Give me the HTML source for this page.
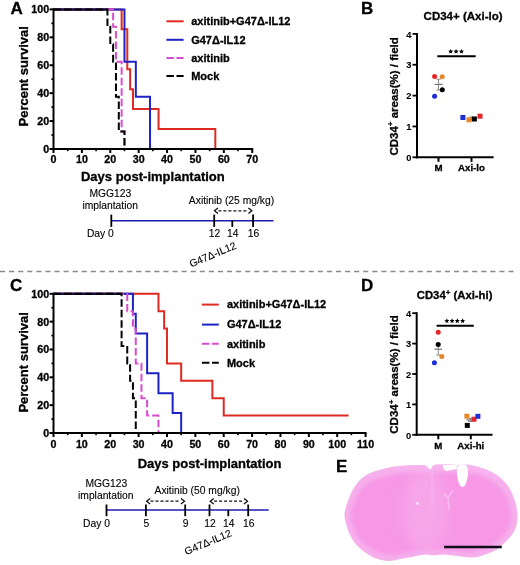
<!DOCTYPE html>
<html><head><meta charset="utf-8"><style>
html,body{margin:0;padding:0;background:#fff;}
svg{display:block;will-change:transform;}
text{font-family:"Liberation Sans", sans-serif;} text[font-weight="700"]{stroke:#000;stroke-width:0.3px;} text[font-weight="400"]{stroke:#000;stroke-width:0.12px;}
</style></head><body>
<svg width="520" height="565" viewBox="0 0 520 565" font-family='"Liberation Sans", sans-serif'>
<rect width="520" height="565" fill="#fff"/>
<defs><filter id="soft" x="0" y="0" width="100%" height="100%" filterUnits="userSpaceOnUse"><feGaussianBlur stdDeviation="0.35"/></filter></defs>
<g filter="url(#soft)">
<text x="10.5" y="13.9" font-size="17" font-weight="700" text-anchor="start" fill="#000" >A</text>
<text x="361.0" y="13.9" font-size="17" font-weight="700" text-anchor="start" fill="#000" >B</text>
<text x="10.0" y="290.6" font-size="17" font-weight="700" text-anchor="start" fill="#000" >C</text>
<text x="361.0" y="290.7" font-size="17" font-weight="700" text-anchor="start" fill="#000" >D</text>
<text x="335.9" y="471.6" font-size="17" font-weight="700" text-anchor="start" fill="#000" >E</text>
<path d="M53.50,9.40 H121.64 V29.34 H127.31 V69.23 H130.15 V89.17 H132.99 V109.11 H158.54 V129.06 H215.32 V149.00" fill="none" stroke="#de2a22" stroke-width="2" stroke-linejoin="miter" stroke-linecap="butt" />
<path d="M53.50,9.40 H124.47 V61.75 H135.83 V96.65 H150.03 V149.00" fill="none" stroke="#1e24c4" stroke-width="2" stroke-linejoin="miter" stroke-linecap="butt" />
<path d="M53.50,9.40 H113.12 V26.85 H115.96 V61.75 H121.64 V131.55 H124.47 V149.00" fill="none" stroke="#d94cd0" stroke-width="2" stroke-linejoin="miter" stroke-linecap="butt" stroke-dasharray="7.5 3"/>
<line x1="53.5" y1="9.4" x2="107.441" y2="9.4" stroke="#0c0c30" stroke-width="2" />
<path d="M53.50,9.40 H107.44 V26.85 H110.28 V44.30 H113.12 V61.75 H115.96 V96.65 H118.80 V131.55 H124.47 V149.00" fill="none" stroke="#000000" stroke-width="2" stroke-linejoin="miter" stroke-linecap="butt" stroke-dasharray="7.5 3"/>
<line x1="53.5" y1="8.4" x2="53.5" y2="150.0" stroke="#000" stroke-width="2" />
<line x1="52.5" y1="149.0" x2="253.23" y2="149.0" stroke="#000" stroke-width="2" />
<line x1="49.5" y1="149.0" x2="53.5" y2="149.0" stroke="#000" stroke-width="2" />
<text x="49.1" y="152.9" font-size="10.7" font-weight="700" text-anchor="end" fill="#000" >0</text>
<line x1="51.3" y1="135.04" x2="53.5" y2="135.04" stroke="#000" stroke-width="1.6" />
<line x1="49.5" y1="121.08" x2="53.5" y2="121.08" stroke="#000" stroke-width="2" />
<text x="49.1" y="124.98" font-size="10.7" font-weight="700" text-anchor="end" fill="#000" >20</text>
<line x1="51.3" y1="107.12" x2="53.5" y2="107.12" stroke="#000" stroke-width="1.6" />
<line x1="49.5" y1="93.16" x2="53.5" y2="93.16" stroke="#000" stroke-width="2" />
<text x="49.1" y="97.06" font-size="10.7" font-weight="700" text-anchor="end" fill="#000" >40</text>
<line x1="51.3" y1="79.2" x2="53.5" y2="79.2" stroke="#000" stroke-width="1.6" />
<line x1="49.5" y1="65.24" x2="53.5" y2="65.24" stroke="#000" stroke-width="2" />
<text x="49.1" y="69.14" font-size="10.7" font-weight="700" text-anchor="end" fill="#000" >60</text>
<line x1="51.3" y1="51.279999999999994" x2="53.5" y2="51.279999999999994" stroke="#000" stroke-width="1.6" />
<line x1="49.5" y1="37.32" x2="53.5" y2="37.32" stroke="#000" stroke-width="2" />
<text x="49.1" y="41.22" font-size="10.7" font-weight="700" text-anchor="end" fill="#000" >80</text>
<line x1="51.3" y1="23.36" x2="53.5" y2="23.36" stroke="#000" stroke-width="1.6" />
<line x1="49.5" y1="9.4" x2="53.5" y2="9.4" stroke="#000" stroke-width="2" />
<text x="49.1" y="13.3" font-size="10.7" font-weight="700" text-anchor="end" fill="#000" >100</text>
<line x1="53.5" y1="149.0" x2="53.5" y2="153.0" stroke="#000" stroke-width="2" />
<text x="53.5" y="163.3" font-size="10.7" font-weight="700" text-anchor="middle" fill="#000" >0</text>
<line x1="67.695" y1="149.0" x2="67.695" y2="151.2" stroke="#000" stroke-width="1.6" />
<line x1="81.89" y1="149.0" x2="81.89" y2="153.0" stroke="#000" stroke-width="2" />
<text x="81.89" y="163.3" font-size="10.7" font-weight="700" text-anchor="middle" fill="#000" >10</text>
<line x1="96.08500000000001" y1="149.0" x2="96.08500000000001" y2="151.2" stroke="#000" stroke-width="1.6" />
<line x1="110.28" y1="149.0" x2="110.28" y2="153.0" stroke="#000" stroke-width="2" />
<text x="110.28" y="163.3" font-size="10.7" font-weight="700" text-anchor="middle" fill="#000" >20</text>
<line x1="124.475" y1="149.0" x2="124.475" y2="151.2" stroke="#000" stroke-width="1.6" />
<line x1="138.67000000000002" y1="149.0" x2="138.67000000000002" y2="153.0" stroke="#000" stroke-width="2" />
<text x="138.67000000000002" y="163.3" font-size="10.7" font-weight="700" text-anchor="middle" fill="#000" >30</text>
<line x1="152.865" y1="149.0" x2="152.865" y2="151.2" stroke="#000" stroke-width="1.6" />
<line x1="167.06" y1="149.0" x2="167.06" y2="153.0" stroke="#000" stroke-width="2" />
<text x="167.06" y="163.3" font-size="10.7" font-weight="700" text-anchor="middle" fill="#000" >40</text>
<line x1="181.255" y1="149.0" x2="181.255" y2="151.2" stroke="#000" stroke-width="1.6" />
<line x1="195.45" y1="149.0" x2="195.45" y2="153.0" stroke="#000" stroke-width="2" />
<text x="195.45" y="163.3" font-size="10.7" font-weight="700" text-anchor="middle" fill="#000" >50</text>
<line x1="209.645" y1="149.0" x2="209.645" y2="151.2" stroke="#000" stroke-width="1.6" />
<line x1="223.84" y1="149.0" x2="223.84" y2="153.0" stroke="#000" stroke-width="2" />
<text x="223.84" y="163.3" font-size="10.7" font-weight="700" text-anchor="middle" fill="#000" >60</text>
<line x1="238.035" y1="149.0" x2="238.035" y2="151.2" stroke="#000" stroke-width="1.6" />
<line x1="252.23" y1="149.0" x2="252.23" y2="153.0" stroke="#000" stroke-width="2" />
<text x="252.23" y="163.3" font-size="10.7" font-weight="700" text-anchor="middle" fill="#000" >70</text>
<text x="152.865" y="180.5" font-size="13" font-weight="700" text-anchor="middle" fill="#000" >Days post-implantation</text>
<text transform="translate(27.7,76.3) rotate(-90)" font-size="13" font-weight="700" text-anchor="middle">Percent survival</text>
<line x1="166.4" y1="21.3" x2="183.6" y2="21.3" stroke="#de2a22" stroke-width="2" />
<text x="191.2" y="25.1" font-size="11" font-weight="700" text-anchor="start" fill="#000" >axitinib+G47&#916;-IL12</text>
<line x1="166.4" y1="39.8" x2="183.6" y2="39.8" stroke="#1e24c4" stroke-width="2" />
<text x="191.2" y="43.599999999999994" font-size="11" font-weight="700" text-anchor="start" fill="#000" >G47&#916;-IL12</text>
<line x1="166.4" y1="58.1" x2="183.6" y2="58.1" stroke="#d94cd0" stroke-width="2" stroke-dasharray="7.5 2.6"/>
<text x="191.2" y="61.9" font-size="11" font-weight="700" text-anchor="start" fill="#000" >axitinib</text>
<line x1="166.4" y1="76.0" x2="183.6" y2="76.0" stroke="#000000" stroke-width="2" stroke-dasharray="7.5 2.6"/>
<text x="191.2" y="79.8" font-size="11" font-weight="700" text-anchor="start" fill="#000" >Mock</text>
<path d="M53.50,293.80 H158.47 V311.20 H164.14 V328.60 H166.98 V363.40 H181.17 V380.80 H212.37 V398.20 H223.72 V415.60 H348.55" fill="none" stroke="#de2a22" stroke-width="2" stroke-linejoin="miter" stroke-linecap="butt" />
<path d="M53.50,293.80 H132.94 V313.69 H135.77 V333.57 H147.12 V373.34 H158.47 V393.23 H172.65 V413.11 H181.17 V433.00" fill="none" stroke="#1e24c4" stroke-width="2" stroke-linejoin="miter" stroke-linecap="butt" />
<path d="M53.50,293.80 H127.26 V311.20 H132.94 V328.60 H135.77 V363.40 H141.45 V398.20 H147.12 V415.60 H158.47 V433.00" fill="none" stroke="#d94cd0" stroke-width="2" stroke-linejoin="miter" stroke-linecap="butt" stroke-dasharray="7.5 3"/>
<line x1="53.5" y1="293.8" x2="121.58800000000001" y2="293.8" stroke="#0c0c30" stroke-width="2" />
<path d="M53.50,293.80 H121.59 V346.00 H127.26 V363.40 H130.10 V380.80 H132.94 V398.20 H135.77 V433.00" fill="none" stroke="#000000" stroke-width="2" stroke-linejoin="miter" stroke-linecap="butt" stroke-dasharray="7.5 3"/>
<line x1="53.5" y1="292.8" x2="53.5" y2="434.0" stroke="#000" stroke-width="2" />
<line x1="52.5" y1="433.0" x2="366.57" y2="433.0" stroke="#000" stroke-width="2" />
<line x1="49.5" y1="433.0" x2="53.5" y2="433.0" stroke="#000" stroke-width="2" />
<text x="49.1" y="436.9" font-size="10.7" font-weight="700" text-anchor="end" fill="#000" >0</text>
<line x1="51.3" y1="419.08" x2="53.5" y2="419.08" stroke="#000" stroke-width="1.6" />
<line x1="49.5" y1="405.15999999999997" x2="53.5" y2="405.15999999999997" stroke="#000" stroke-width="2" />
<text x="49.1" y="409.05999999999995" font-size="10.7" font-weight="700" text-anchor="end" fill="#000" >20</text>
<line x1="51.3" y1="391.24" x2="53.5" y2="391.24" stroke="#000" stroke-width="1.6" />
<line x1="49.5" y1="377.32" x2="53.5" y2="377.32" stroke="#000" stroke-width="2" />
<text x="49.1" y="381.21999999999997" font-size="10.7" font-weight="700" text-anchor="end" fill="#000" >40</text>
<line x1="51.3" y1="363.4" x2="53.5" y2="363.4" stroke="#000" stroke-width="1.6" />
<line x1="49.5" y1="349.48" x2="53.5" y2="349.48" stroke="#000" stroke-width="2" />
<text x="49.1" y="353.38" font-size="10.7" font-weight="700" text-anchor="end" fill="#000" >60</text>
<line x1="51.3" y1="335.56" x2="53.5" y2="335.56" stroke="#000" stroke-width="1.6" />
<line x1="49.5" y1="321.64" x2="53.5" y2="321.64" stroke="#000" stroke-width="2" />
<text x="49.1" y="325.53999999999996" font-size="10.7" font-weight="700" text-anchor="end" fill="#000" >80</text>
<line x1="51.3" y1="307.72" x2="53.5" y2="307.72" stroke="#000" stroke-width="1.6" />
<line x1="49.5" y1="293.8" x2="53.5" y2="293.8" stroke="#000" stroke-width="2" />
<text x="49.1" y="297.7" font-size="10.7" font-weight="700" text-anchor="end" fill="#000" >100</text>
<line x1="53.5" y1="433.0" x2="53.5" y2="437.0" stroke="#000" stroke-width="2" />
<text x="53.5" y="448.3" font-size="10.7" font-weight="700" text-anchor="middle" fill="#000" >0</text>
<line x1="67.685" y1="433.0" x2="67.685" y2="435.2" stroke="#000" stroke-width="1.6" />
<line x1="81.87" y1="433.0" x2="81.87" y2="437.0" stroke="#000" stroke-width="2" />
<text x="81.87" y="448.3" font-size="10.7" font-weight="700" text-anchor="middle" fill="#000" >10</text>
<line x1="96.055" y1="433.0" x2="96.055" y2="435.2" stroke="#000" stroke-width="1.6" />
<line x1="110.24000000000001" y1="433.0" x2="110.24000000000001" y2="437.0" stroke="#000" stroke-width="2" />
<text x="110.24000000000001" y="448.3" font-size="10.7" font-weight="700" text-anchor="middle" fill="#000" >20</text>
<line x1="124.42500000000001" y1="433.0" x2="124.42500000000001" y2="435.2" stroke="#000" stroke-width="1.6" />
<line x1="138.61" y1="433.0" x2="138.61" y2="437.0" stroke="#000" stroke-width="2" />
<text x="138.61" y="448.3" font-size="10.7" font-weight="700" text-anchor="middle" fill="#000" >30</text>
<line x1="152.79500000000002" y1="433.0" x2="152.79500000000002" y2="435.2" stroke="#000" stroke-width="1.6" />
<line x1="166.98000000000002" y1="433.0" x2="166.98000000000002" y2="437.0" stroke="#000" stroke-width="2" />
<text x="166.98000000000002" y="448.3" font-size="10.7" font-weight="700" text-anchor="middle" fill="#000" >40</text>
<line x1="181.16500000000002" y1="433.0" x2="181.16500000000002" y2="435.2" stroke="#000" stroke-width="1.6" />
<line x1="195.35000000000002" y1="433.0" x2="195.35000000000002" y2="437.0" stroke="#000" stroke-width="2" />
<text x="195.35000000000002" y="448.3" font-size="10.7" font-weight="700" text-anchor="middle" fill="#000" >50</text>
<line x1="209.535" y1="433.0" x2="209.535" y2="435.2" stroke="#000" stroke-width="1.6" />
<line x1="223.72" y1="433.0" x2="223.72" y2="437.0" stroke="#000" stroke-width="2" />
<text x="223.72" y="448.3" font-size="10.7" font-weight="700" text-anchor="middle" fill="#000" >60</text>
<line x1="237.905" y1="433.0" x2="237.905" y2="435.2" stroke="#000" stroke-width="1.6" />
<line x1="252.09" y1="433.0" x2="252.09" y2="437.0" stroke="#000" stroke-width="2" />
<text x="252.09" y="448.3" font-size="10.7" font-weight="700" text-anchor="middle" fill="#000" >70</text>
<line x1="266.275" y1="433.0" x2="266.275" y2="435.2" stroke="#000" stroke-width="1.6" />
<line x1="280.46000000000004" y1="433.0" x2="280.46000000000004" y2="437.0" stroke="#000" stroke-width="2" />
<text x="280.46000000000004" y="448.3" font-size="10.7" font-weight="700" text-anchor="middle" fill="#000" >80</text>
<line x1="294.645" y1="433.0" x2="294.645" y2="435.2" stroke="#000" stroke-width="1.6" />
<line x1="308.83000000000004" y1="433.0" x2="308.83000000000004" y2="437.0" stroke="#000" stroke-width="2" />
<text x="308.83000000000004" y="448.3" font-size="10.7" font-weight="700" text-anchor="middle" fill="#000" >90</text>
<line x1="323.01500000000004" y1="433.0" x2="323.01500000000004" y2="435.2" stroke="#000" stroke-width="1.6" />
<line x1="337.20000000000005" y1="433.0" x2="337.20000000000005" y2="437.0" stroke="#000" stroke-width="2" />
<text x="337.20000000000005" y="448.3" font-size="10.7" font-weight="700" text-anchor="middle" fill="#000" >100</text>
<line x1="351.38500000000005" y1="433.0" x2="351.38500000000005" y2="435.2" stroke="#000" stroke-width="1.6" />
<line x1="365.57" y1="433.0" x2="365.57" y2="437.0" stroke="#000" stroke-width="2" />
<text x="365.57" y="448.3" font-size="10.7" font-weight="700" text-anchor="middle" fill="#000" >110</text>
<text x="209.535" y="468.1" font-size="13" font-weight="700" text-anchor="middle" fill="#000" >Days post-implantation</text>
<text transform="translate(27.7,362.4) rotate(-90)" font-size="13" font-weight="700" text-anchor="middle">Percent survival</text>
<line x1="201.9" y1="304.6" x2="218.8" y2="304.6" stroke="#de2a22" stroke-width="2" />
<text x="226.9" y="308.40000000000003" font-size="11" font-weight="700" text-anchor="start" fill="#000" >axitinib+G47&#916;-IL12</text>
<line x1="201.9" y1="324.6" x2="218.8" y2="324.6" stroke="#1e24c4" stroke-width="2" />
<text x="226.9" y="328.40000000000003" font-size="11" font-weight="700" text-anchor="start" fill="#000" >G47&#916;-IL12</text>
<line x1="201.9" y1="343.7" x2="218.8" y2="343.7" stroke="#d94cd0" stroke-width="2" stroke-dasharray="7.5 2.6"/>
<text x="226.9" y="347.5" font-size="11" font-weight="700" text-anchor="start" fill="#000" >axitinib</text>
<line x1="201.9" y1="362.7" x2="218.8" y2="362.7" stroke="#000000" stroke-width="2" stroke-dasharray="7.5 2.6"/>
<text x="226.9" y="366.5" font-size="11" font-weight="700" text-anchor="start" fill="#000" >Mock</text>
<text x="110.4" y="197.3" font-size="10.3" font-weight="400" text-anchor="middle" fill="#000" >MGG123</text>
<text x="110.2" y="208.5" font-size="10.3" font-weight="400" text-anchor="middle" fill="#000" >implantation</text>
<line x1="111.3" y1="220.7" x2="273.5" y2="220.7" stroke="#1c1cb0" stroke-width="1.6" />
<line x1="111.3" y1="214.6" x2="111.3" y2="226.9" stroke="#000" stroke-width="1.8" />
<line x1="214.2" y1="214.6" x2="214.2" y2="226.9" stroke="#000" stroke-width="1.8" />
<line x1="232.3" y1="220.4" x2="232.3" y2="226.9" stroke="#000" stroke-width="1.8" />
<line x1="253.1" y1="214.6" x2="253.1" y2="226.9" stroke="#000" stroke-width="1.8" />
<text x="100.4" y="237.4" font-size="10.3" font-weight="400" text-anchor="middle" fill="#000" >Day 0</text>
<text x="214.4" y="237.4" font-size="10.3" font-weight="400" text-anchor="middle" fill="#000" >12</text>
<text x="232.8" y="237.4" font-size="10.3" font-weight="400" text-anchor="middle" fill="#000" >14</text>
<text x="253.6" y="237.4" font-size="10.3" font-weight="400" text-anchor="middle" fill="#000" >16</text>
<text x="231.5" y="203.8" font-size="10.3" font-weight="400" text-anchor="middle" fill="#000" >Axitinib (25 mg/kg)</text>
<line x1="218.4" y1="210.8" x2="248.0" y2="210.8" stroke="#111" stroke-width="1.2" stroke-dasharray="3 2"/>
<path d="M218.0,208.0 L214.5,210.8 L218.0,213.60000000000002 M248.4,208.0 L251.9,210.8 L248.4,213.60000000000002" fill="none" stroke="#111" stroke-width="1.3"/>
<text transform="translate(191.2,267.6) rotate(-23)" font-size="10.3" font-weight="400">G47&#916;-IL12</text>
<text x="106.3" y="487.3" font-size="10.3" font-weight="400" text-anchor="middle" fill="#000" >MGG123</text>
<text x="105.8" y="498.7" font-size="10.3" font-weight="400" text-anchor="middle" fill="#000" >implantation</text>
<line x1="106.5" y1="510.0" x2="268.7" y2="510.0" stroke="#1c1cb0" stroke-width="1.6" />
<line x1="106.5" y1="504.5" x2="106.5" y2="516.2" stroke="#000" stroke-width="1.8" />
<line x1="145.9" y1="504.5" x2="145.9" y2="516.2" stroke="#000" stroke-width="1.8" />
<line x1="185.2" y1="504.5" x2="185.2" y2="516.2" stroke="#000" stroke-width="1.8" />
<line x1="209.5" y1="504.5" x2="209.5" y2="516.2" stroke="#000" stroke-width="1.8" />
<line x1="248.2" y1="504.5" x2="248.2" y2="516.2" stroke="#000" stroke-width="1.8" />
<line x1="228.3" y1="509.9" x2="228.3" y2="516.2" stroke="#000" stroke-width="1.8" />
<text x="96.5" y="526.5" font-size="10.3" font-weight="400" text-anchor="middle" fill="#000" >Day 0</text>
<text x="146.4" y="526.5" font-size="10.3" font-weight="400" text-anchor="middle" fill="#000" >5</text>
<text x="185.7" y="526.5" font-size="10.3" font-weight="400" text-anchor="middle" fill="#000" >9</text>
<text x="210" y="526.5" font-size="10.3" font-weight="400" text-anchor="middle" fill="#000" >12</text>
<text x="228.8" y="526.5" font-size="10.3" font-weight="400" text-anchor="middle" fill="#000" >14</text>
<text x="248.7" y="526.5" font-size="10.3" font-weight="400" text-anchor="middle" fill="#000" >16</text>
<text x="197.2" y="494.4" font-size="10.3" font-weight="400" text-anchor="middle" fill="#000" >Axitinib (50 mg/kg)</text>
<line x1="150.5" y1="501.2" x2="180.6" y2="501.2" stroke="#111" stroke-width="1.2" stroke-dasharray="3 2"/>
<path d="M150.1,498.4 L146.6,501.2 L150.1,504.0 M181.0,498.4 L184.5,501.2 L181.0,504.0" fill="none" stroke="#111" stroke-width="1.3"/>
<line x1="214.1" y1="501.2" x2="243.6" y2="501.2" stroke="#111" stroke-width="1.2" stroke-dasharray="3 2"/>
<path d="M213.7,498.4 L210.2,501.2 L213.7,504.0 M244.0,498.4 L247.5,501.2 L244.0,504.0" fill="none" stroke="#111" stroke-width="1.3"/>
<text transform="translate(186.3,555.2) rotate(-23)" font-size="10.3" font-weight="400">G47&#916;-IL12</text>
<line x1="0" y1="271.5" x2="514" y2="271.5" stroke="#8a8a8a" stroke-width="1.6" stroke-dasharray="5.1 3.98"/>
<line x1="417.0" y1="32.9" x2="417.0" y2="158.3" stroke="#000" stroke-width="2" />
<line x1="416.0" y1="157.3" x2="493.6" y2="157.3" stroke="#000" stroke-width="2" />
<line x1="412.5" y1="157.3" x2="417.0" y2="157.3" stroke="#000" stroke-width="1.8" />
<text x="411.5" y="161.0" font-size="9.3" font-weight="700" text-anchor="end" fill="#000" style="stroke-width:0.1px">0</text>
<line x1="412.5" y1="126.45000000000002" x2="417.0" y2="126.45000000000002" stroke="#000" stroke-width="1.8" />
<text x="411.5" y="130.15" font-size="9.3" font-weight="700" text-anchor="end" fill="#000" style="stroke-width:0.1px">1</text>
<line x1="412.5" y1="95.60000000000001" x2="417.0" y2="95.60000000000001" stroke="#000" stroke-width="1.8" />
<text x="411.5" y="99.30000000000001" font-size="9.3" font-weight="700" text-anchor="end" fill="#000" style="stroke-width:0.1px">2</text>
<line x1="412.5" y1="64.75" x2="417.0" y2="64.75" stroke="#000" stroke-width="1.8" />
<text x="411.5" y="68.45" font-size="9.3" font-weight="700" text-anchor="end" fill="#000" style="stroke-width:0.1px">3</text>
<line x1="412.5" y1="33.900000000000006" x2="417.0" y2="33.900000000000006" stroke="#000" stroke-width="1.8" />
<text x="411.5" y="37.60000000000001" font-size="9.3" font-weight="700" text-anchor="end" fill="#000" style="stroke-width:0.1px">4</text>
<line x1="438.5" y1="157.3" x2="438.5" y2="161.8" stroke="#000" stroke-width="2" />
<text x="438.5" y="171.3" font-size="9.7" font-weight="700" text-anchor="middle" fill="#000" >M</text>
<line x1="471.5" y1="157.3" x2="471.5" y2="161.8" stroke="#000" stroke-width="2" />
<text x="471.5" y="171.3" font-size="9.7" font-weight="700" text-anchor="middle" fill="#000" >Axi-lo</text>
<text x="423.6" y="20.4" font-size="11.5" font-weight="700" text-anchor="start" fill="#000" >CD34+ (Axi-lo)</text>
<text transform="translate(397.6,96.4) rotate(-90)" font-size="11.5" font-weight="700" text-anchor="middle">CD34<tspan font-size="8" dy="-4.2">+</tspan><tspan dy="4.2"> areas(%) / field</tspan></text>
<line x1="437.3" y1="56.2" x2="475.7" y2="56.2" stroke="#000" stroke-width="2" />
<polygon points="450.70,48.90 451.43,50.49 453.17,50.70 451.89,51.89 452.23,53.60 450.70,52.75 449.17,53.60 449.51,51.89 448.23,50.70 449.97,50.49" fill="#000"/>
<polygon points="456.10,48.90 456.83,50.49 458.57,50.70 457.29,51.89 457.63,53.60 456.10,52.75 454.57,53.60 454.91,51.89 453.63,50.70 455.37,50.49" fill="#000"/>
<polygon points="461.50,48.90 462.23,50.49 463.97,50.70 462.69,51.89 463.03,53.60 461.50,52.75 459.97,53.60 460.31,51.89 459.03,50.70 460.77,50.49" fill="#000"/>
<line x1="434.6" y1="84.4" x2="442.4" y2="84.4" stroke="#666" stroke-width="1.1" />
<line x1="438.5" y1="79.2" x2="438.5" y2="90.0" stroke="#8a8a8a" stroke-width="1" />
<line x1="436.3" y1="79.2" x2="440.7" y2="79.2" stroke="#8a8a8a" stroke-width="1" />
<line x1="436.3" y1="90.0" x2="440.7" y2="90.0" stroke="#8a8a8a" stroke-width="1" />
<line x1="467.6" y1="118.5" x2="475.4" y2="118.5" stroke="#666" stroke-width="1.1" />
<line x1="471.5" y1="117" x2="471.5" y2="120" stroke="#8a8a8a" stroke-width="1" />
<line x1="469.3" y1="117" x2="473.7" y2="117" stroke="#8a8a8a" stroke-width="1" />
<line x1="469.3" y1="120" x2="473.7" y2="120" stroke="#8a8a8a" stroke-width="1" />
<circle cx="434.6" cy="76.5" r="2.5" fill="#e5262a"/>
<circle cx="442.2" cy="76.8" r="2.5" fill="#e8862a"/>
<circle cx="442.3" cy="89.7" r="2.5" fill="#000"/>
<circle cx="434.6" cy="96.2" r="2.5" fill="#1f2ed6"/>
<rect x="460.4" y="115.0" width="5" height="5" fill="#1f2ed6"/>
<rect x="466.5" y="117.3" width="5" height="5" fill="#e8862a"/>
<rect x="471.9" y="116.5" width="5" height="5" fill="#000"/>
<rect x="477.5" y="113.7" width="5" height="5" fill="#e5262a"/>
<line x1="416.7" y1="312.2" x2="416.7" y2="435.8" stroke="#000" stroke-width="2" />
<line x1="415.7" y1="434.8" x2="492.5" y2="434.8" stroke="#000" stroke-width="2" />
<line x1="412.2" y1="434.8" x2="416.7" y2="434.8" stroke="#000" stroke-width="1.8" />
<text x="411.2" y="438.5" font-size="9.3" font-weight="700" text-anchor="end" fill="#000" style="stroke-width:0.1px">0</text>
<line x1="412.2" y1="404.4" x2="416.7" y2="404.4" stroke="#000" stroke-width="1.8" />
<text x="411.2" y="408.09999999999997" font-size="9.3" font-weight="700" text-anchor="end" fill="#000" style="stroke-width:0.1px">1</text>
<line x1="412.2" y1="374.0" x2="416.7" y2="374.0" stroke="#000" stroke-width="1.8" />
<text x="411.2" y="377.7" font-size="9.3" font-weight="700" text-anchor="end" fill="#000" style="stroke-width:0.1px">2</text>
<line x1="412.2" y1="343.6" x2="416.7" y2="343.6" stroke="#000" stroke-width="1.8" />
<text x="411.2" y="347.3" font-size="9.3" font-weight="700" text-anchor="end" fill="#000" style="stroke-width:0.1px">3</text>
<line x1="412.2" y1="313.2" x2="416.7" y2="313.2" stroke="#000" stroke-width="1.8" />
<text x="411.2" y="316.9" font-size="9.3" font-weight="700" text-anchor="end" fill="#000" style="stroke-width:0.1px">4</text>
<line x1="438.3" y1="434.8" x2="438.3" y2="439.3" stroke="#000" stroke-width="2" />
<text x="438.3" y="448.8" font-size="9.7" font-weight="700" text-anchor="middle" fill="#000" >M</text>
<line x1="470.8" y1="434.8" x2="470.8" y2="439.3" stroke="#000" stroke-width="2" />
<text x="470.8" y="448.8" font-size="9.7" font-weight="700" text-anchor="middle" fill="#000" >Axi-hi</text>
<text x="416.8" y="299.3" font-size="11.3" font-weight="700">CD34<tspan font-size="8" dy="-4.2">+</tspan><tspan dy="4.2"> (Axi-hi)</tspan></text>
<text transform="translate(398.3,374.5) rotate(-90)" font-size="11.5" font-weight="700" text-anchor="middle">CD34<tspan font-size="8" dy="-4.2">+</tspan><tspan dy="4.2"> areas(%) / field</tspan></text>
<line x1="436.6" y1="325.8" x2="473.8" y2="325.8" stroke="#000" stroke-width="2" />
<polygon points="446.90,318.30 447.63,319.89 449.37,320.10 448.09,321.29 448.43,323.00 446.90,322.15 445.37,323.00 445.71,321.29 444.43,320.10 446.17,319.89" fill="#000"/>
<polygon points="452.10,318.30 452.83,319.89 454.57,320.10 453.29,321.29 453.63,323.00 452.10,322.15 450.57,323.00 450.91,321.29 449.63,320.10 451.37,319.89" fill="#000"/>
<polygon points="457.30,318.30 458.03,319.89 459.77,320.10 458.49,321.29 458.83,323.00 457.30,322.15 455.77,323.00 456.11,321.29 454.83,320.10 456.57,319.89" fill="#000"/>
<polygon points="462.60,318.30 463.33,319.89 465.07,320.10 463.79,321.29 464.13,323.00 462.60,322.15 461.07,323.00 461.41,321.29 460.13,320.10 461.87,319.89" fill="#000"/>
<line x1="434.40000000000003" y1="349.2" x2="442.2" y2="349.2" stroke="#666" stroke-width="1.1" />
<line x1="438.3" y1="343.5" x2="438.3" y2="355" stroke="#8a8a8a" stroke-width="1" />
<line x1="436.1" y1="343.5" x2="440.5" y2="343.5" stroke="#8a8a8a" stroke-width="1" />
<line x1="436.1" y1="355" x2="440.5" y2="355" stroke="#8a8a8a" stroke-width="1" />
<line x1="466.40000000000003" y1="420.0" x2="474.2" y2="420.0" stroke="#666" stroke-width="1.1" />
<line x1="470.3" y1="418.5" x2="470.3" y2="421.5" stroke="#8a8a8a" stroke-width="1" />
<line x1="468.1" y1="418.5" x2="472.5" y2="418.5" stroke="#8a8a8a" stroke-width="1" />
<line x1="468.1" y1="421.5" x2="472.5" y2="421.5" stroke="#8a8a8a" stroke-width="1" />
<circle cx="438.2" cy="332.3" r="2.5" fill="#e5262a"/>
<circle cx="438.2" cy="344.6" r="2.5" fill="#000"/>
<circle cx="441.8" cy="356.6" r="2.5" fill="#e8862a"/>
<circle cx="434.4" cy="362.8" r="2.5" fill="#1f2ed6"/>
<rect x="464.4" y="413.7" width="5" height="5" fill="#e8862a"/>
<rect x="464.8" y="422.9" width="5" height="5" fill="#000"/>
<rect x="471.5" y="416.7" width="5" height="5" fill="#e5262a"/>
<rect x="475.4" y="413.8" width="5" height="5" fill="#1f2ed6"/>
<defs><filter id="bl" x="-10%" y="-10%" width="120%" height="120%"><feGaussianBlur stdDeviation="2.2"/></filter><filter id="bl2" x="-10%" y="-10%" width="120%" height="120%"><feGaussianBlur stdDeviation="0.6"/></filter></defs>
<path d="M344.5,515.0 C344.5,511.6 345.6,508.2 346.5,505.0 C347.4,501.8 348.5,499.0 349.8,496.0 C351.1,493.0 352.6,489.8 354.5,487.0 C356.4,484.2 358.4,481.3 361.0,479.0 C363.6,476.7 366.5,474.8 370.4,473.0 C374.3,471.2 379.9,469.7 384.6,468.5 C389.3,467.3 393.9,466.6 398.5,466.0 C403.1,465.4 407.6,465.3 412.0,465.2 C416.4,465.1 422.0,464.6 425.0,465.3 C428.0,466.0 428.4,469.6 430.0,469.5 C431.6,469.4 431.7,465.8 434.5,465.0 C437.3,464.2 443.1,464.6 446.9,464.6 C450.6,464.6 453.0,464.9 457.0,465.0 C461.0,465.1 466.0,464.4 471.0,465.2 C476.0,466.0 482.2,467.8 487.0,469.8 C491.8,471.9 496.3,474.5 500.0,477.5 C503.7,480.5 506.5,483.7 509.0,487.6 C511.5,491.5 513.6,496.5 515.0,501.0 C516.4,505.5 517.3,510.2 517.5,514.5 C517.7,518.8 517.1,523.4 516.0,527.0 C514.9,530.6 513.4,533.0 511.0,536.0 C508.6,539.0 504.6,542.8 501.8,545.2 C499.1,547.7 498.2,548.9 494.5,550.7 C490.8,552.5 483.8,555.1 479.8,556.2 C475.8,557.3 474.4,557.5 470.7,557.5 C467.0,557.5 462.5,556.5 457.9,556.0 C453.3,555.5 447.3,554.5 443.3,554.4 C439.3,554.3 437.2,555.3 434.1,555.3 C431.1,555.3 428.7,554.2 425.0,554.5 C421.3,554.8 416.0,556.2 411.9,557.0 C407.8,557.8 404.2,558.3 400.4,559.0 C396.6,559.7 393.1,561.1 389.0,561.0 C384.9,560.9 379.8,559.8 376.0,558.5 C372.2,557.2 369.2,555.2 366.0,553.0 C362.8,550.8 359.1,547.8 356.5,545.0 C353.9,542.2 352.2,539.2 350.5,536.0 C348.8,532.8 347.5,529.0 346.5,525.5 C345.5,522.0 344.5,518.4 344.5,515.0 Z" fill="#f6b0ec" filter="url(#bl2)"/>
<path d="M350.3,515.6 C350.3,512.6 351.4,509.7 352.2,507.0 C353.0,504.3 354.0,501.8 355.3,499.2 C356.5,496.7 357.9,493.9 359.6,491.5 C361.4,489.1 363.2,486.6 365.7,484.6 C368.2,482.6 370.8,481.0 374.4,479.5 C378.1,478.0 383.3,476.6 387.6,475.6 C392.0,474.6 396.3,473.9 400.6,473.4 C404.8,473.0 409.0,472.9 413.1,472.8 C417.2,472.7 422.4,472.2 425.2,472.8 C428.0,473.5 428.4,476.5 429.9,476.4 C431.3,476.4 431.4,473.3 434.0,472.6 C436.7,471.9 442.1,472.2 445.6,472.2 C449.1,472.2 451.2,472.5 455.0,472.6 C458.7,472.7 463.3,472.1 468.0,472.8 C472.6,473.4 478.4,474.9 482.9,476.7 C487.4,478.5 491.6,480.8 495.0,483.3 C498.4,485.9 501.0,488.6 503.3,492.0 C505.7,495.4 507.6,499.7 508.9,503.5 C510.2,507.4 511.1,511.4 511.2,515.1 C511.4,518.9 510.8,522.8 509.8,525.9 C508.8,529.0 507.4,531.0 505.2,533.6 C503.0,536.2 499.2,539.4 496.6,541.6 C494.1,543.7 493.3,544.7 489.8,546.3 C486.4,547.9 479.9,550.0 476.2,551.0 C472.5,552.0 471.1,552.2 467.7,552.1 C464.3,552.1 460.1,551.3 455.8,550.8 C451.6,550.4 445.9,549.6 442.2,549.5 C438.5,549.4 436.5,550.2 433.7,550.2 C430.8,550.3 428.7,549.3 425.2,549.5 C421.8,549.8 416.8,551.1 413.0,551.7 C409.2,552.3 405.9,552.8 402.3,553.4 C398.8,554.0 395.5,555.2 391.7,555.1 C387.9,555.1 383.2,554.1 379.6,553.0 C376.1,551.8 373.4,550.2 370.3,548.3 C367.3,546.3 363.9,543.8 361.5,541.4 C359.1,538.9 357.5,536.4 355.9,533.6 C354.4,530.8 353.1,527.6 352.2,524.6 C351.3,521.6 350.3,518.5 350.3,515.6 Z" fill="#f797e6" filter="url(#bl)"/>
<clipPath id="bc"><path d="M344.5,515.0 C344.5,511.6 345.6,508.2 346.5,505.0 C347.4,501.8 348.5,499.0 349.8,496.0 C351.1,493.0 352.6,489.8 354.5,487.0 C356.4,484.2 358.4,481.3 361.0,479.0 C363.6,476.7 366.5,474.8 370.4,473.0 C374.3,471.2 379.9,469.7 384.6,468.5 C389.3,467.3 393.9,466.6 398.5,466.0 C403.1,465.4 407.6,465.3 412.0,465.2 C416.4,465.1 422.0,464.6 425.0,465.3 C428.0,466.0 428.4,469.6 430.0,469.5 C431.6,469.4 431.7,465.8 434.5,465.0 C437.3,464.2 443.1,464.6 446.9,464.6 C450.6,464.6 453.0,464.9 457.0,465.0 C461.0,465.1 466.0,464.4 471.0,465.2 C476.0,466.0 482.2,467.8 487.0,469.8 C491.8,471.9 496.3,474.5 500.0,477.5 C503.7,480.5 506.5,483.7 509.0,487.6 C511.5,491.5 513.6,496.5 515.0,501.0 C516.4,505.5 517.3,510.2 517.5,514.5 C517.7,518.8 517.1,523.4 516.0,527.0 C514.9,530.6 513.4,533.0 511.0,536.0 C508.6,539.0 504.6,542.8 501.8,545.2 C499.1,547.7 498.2,548.9 494.5,550.7 C490.8,552.5 483.8,555.1 479.8,556.2 C475.8,557.3 474.4,557.5 470.7,557.5 C467.0,557.5 462.5,556.5 457.9,556.0 C453.3,555.5 447.3,554.5 443.3,554.4 C439.3,554.3 437.2,555.3 434.1,555.3 C431.1,555.3 428.7,554.2 425.0,554.5 C421.3,554.8 416.0,556.2 411.9,557.0 C407.8,557.8 404.2,558.3 400.4,559.0 C396.6,559.7 393.1,561.1 389.0,561.0 C384.9,560.9 379.8,559.8 376.0,558.5 C372.2,557.2 369.2,555.2 366.0,553.0 C362.8,550.8 359.1,547.8 356.5,545.0 C353.9,542.2 352.2,539.2 350.5,536.0 C348.8,532.8 347.5,529.0 346.5,525.5 C345.5,522.0 344.5,518.4 344.5,515.0 Z"/></clipPath>
<g clip-path="url(#bc)">
<filter id="bl8" x="-50%" y="-50%" width="200%" height="200%"><feGaussianBlur stdDeviation="7"/></filter>
<ellipse cx="425" cy="512" rx="22" ry="42" fill="#f6b0ec" filter="url(#bl8)" opacity="0.6"/>
<path d="M395,466 C420,464 440,464 470,465 C485,467 495,472 502,478" fill="none" stroke="#f8b8f2" stroke-width="8" filter="url(#bl)" opacity="0.7"/>
<path d="M431.5,468 L432,490 L433,505" fill="none" stroke="#f8b4f2" stroke-width="3" filter="url(#bl)"/>
<path d="M453,490 L448,498 L449.5,511 M448,498 L444,494" fill="none" stroke="#fbc8f6" stroke-width="1.8" filter="url(#bl2)" opacity="0.6"/>
<ellipse cx="417.5" cy="503.5" rx="1.5" ry="1.7" fill="#fbd8f8" filter="url(#bl2)"/>
</g>
<path d="M458.0,466.0 C458.9,464.4 461.0,464.4 462.5,464.5 C464.0,464.6 466.1,465.1 467.0,466.5 C467.9,467.9 468.0,470.8 468.0,473.0 C468.0,475.2 467.6,477.8 467.0,480.0 C466.4,482.2 465.5,484.9 464.5,486.0 C463.5,487.1 462.0,487.2 461.0,486.5 C460.0,485.8 459.2,484.1 458.5,482.0 C457.8,479.9 457.1,476.7 457.0,474.0 C456.9,471.3 457.1,467.6 458.0,466.0 Z" fill="#fff" filter="url(#bl2)"/>
<path d="M443,465 L457,465 L457,469 L446,471 L443,468 Z" fill="#fff" filter="url(#bl2)"/>
<line x1="444.2" y1="547.0" x2="501.8" y2="547.0" stroke="#0a0a1a" stroke-width="2.5" />
</g>
</svg>
</body></html>
